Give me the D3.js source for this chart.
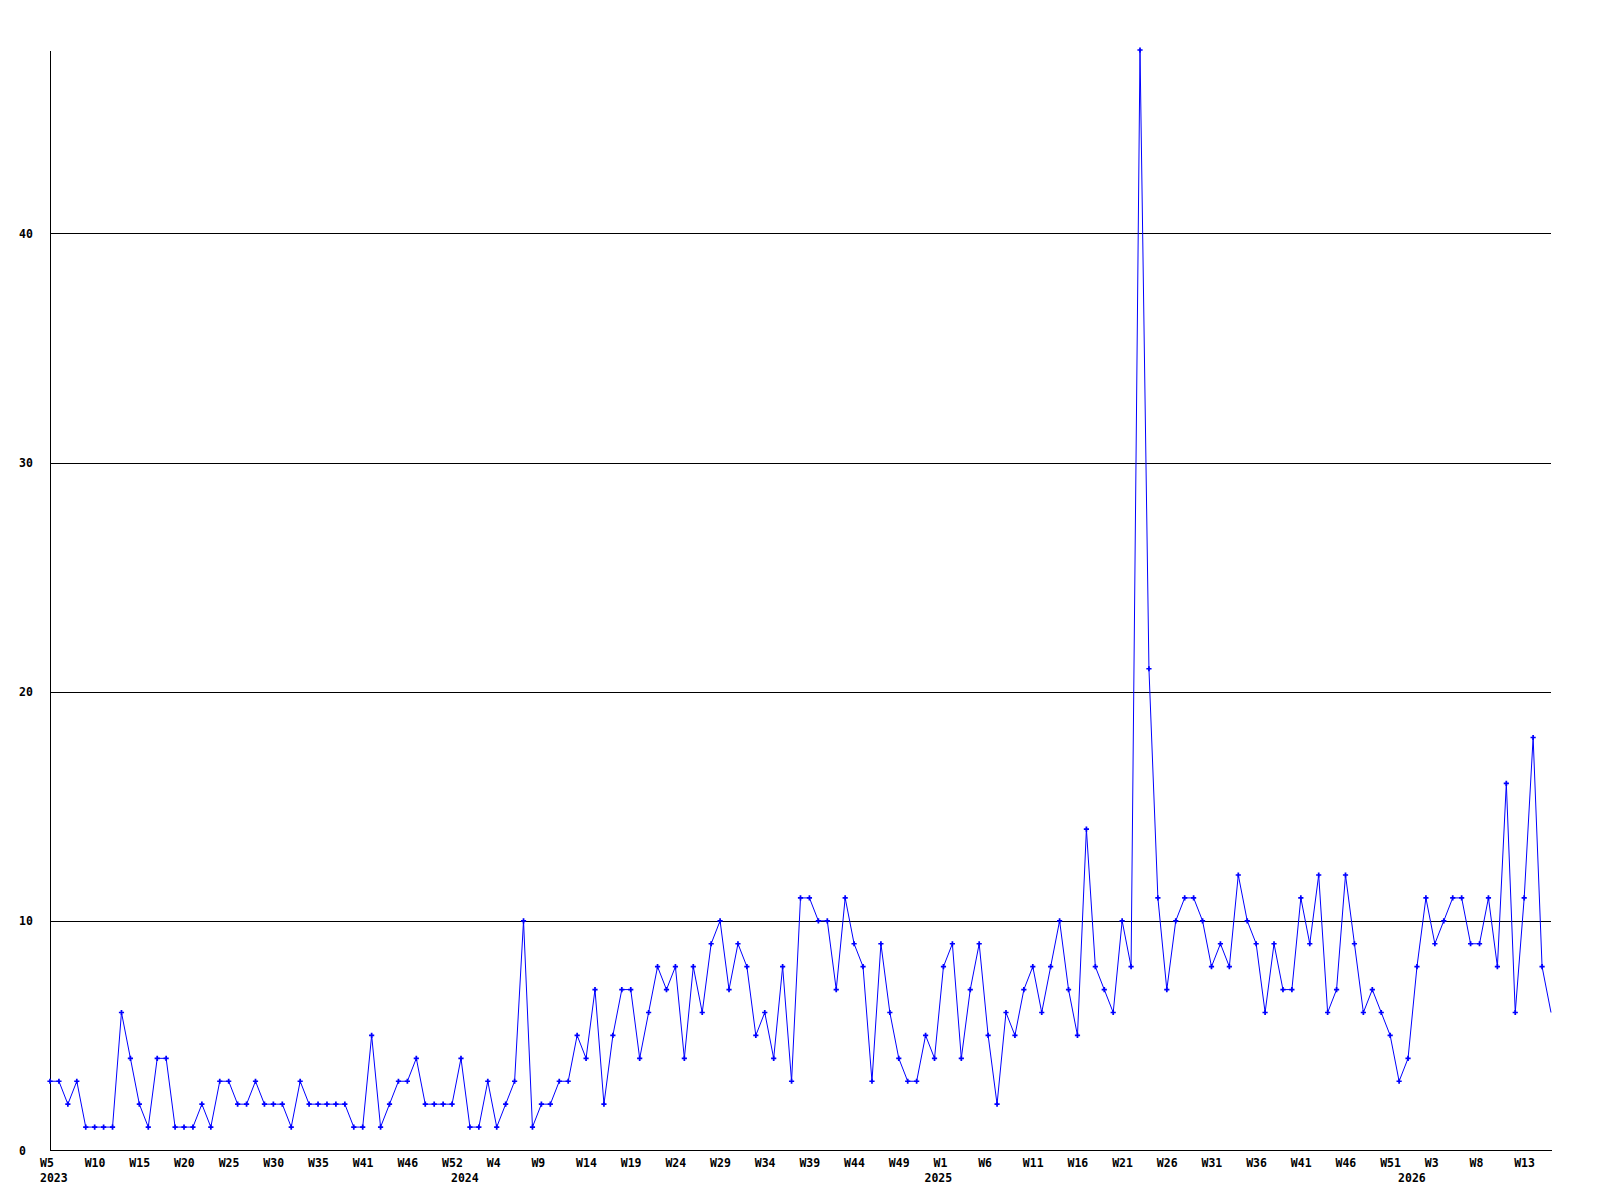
<!DOCTYPE html>
<html lang="en">
<head>
  <meta charset="UTF-8">
  <title>Weekly counts</title>
  <style>
    body { margin: 0; background: #fff; }
    .chart text {
      font-family: "DejaVu Sans Mono", monospace;
      font-weight: bold;
      font-size: 11.5px;
      fill: #000;
    }
    .axis path,
    .axis line {
      fill: none;
      stroke: #000;
      shape-rendering: crispEdges;
    }
    .series {
      fill: none;
      stroke: #0000ff;
      stroke-width: 1;
    }
    .marker { fill: #0000ff; }
  </style>
</head>
<body>
  <svg class="chart"></svg>
  <script src="https://cdn.jsdelivr.net/npm/d3@7"></script>
  <script>
    // one value per week, 2023 W5 onwards
    var counts2023 = [3,3,2,3,1,1,1,1,6,4,2,1,4,4,1,1,1,2,1,3,3,2,2,3,2,2,
                      2,1,3,2,2,2,2,2,1,1,5,1,2,3,3,4,2,2,2,2];
    var counts2024 = [4,1,1,3,1,2,3,10,1,2,
                      2,3,3,5,4,7,2,5,7,7,4,6,8,7,8,4,8,6,9,10,7,9,8,5,6,4,8,3,11,
                      11,10,10,7,11,9,8,3,9,6,4,3,3,5];
    var counts2025 = [4,8,9,4,7,9,5,2,6,5,7,8,6,8,10,
                      7,5,14,8,7,6,10,8,48,21,11,7,10,11,11,10,8,9,8,12,10,9,6,9,7,7,11,9,12,
                      6,7,12,9,6,7,6,5,3];
    var counts2026 = [4,8,11,9,10,11,11,9,9,11,8,16,6,11,18,8,6];
    var values = counts2023.concat(counts2024, counts2025, counts2026);

    // x labels, one every 5 weeks
    var weekLabels = ["W5","W10","W15","W20","W25","W30","W35","W41","W46","W52",
                      "W4","W9","W14","W19","W24","W29","W34","W39","W44","W49",
                      "W1","W6","W11","W16","W21","W26","W31","W36","W41","W46","W51",
                      "W3","W8","W13"];
    var years = ["2023","2024","2025","2026"];
    var yearStart = [0, counts2023.length, counts2023.length + counts2024.length,
                     counts2023.length + counts2024.length + counts2025.length];
    var yTicks = [0, 10, 20, 30, 40];

    var svgW = 1600, svgH = 1200;
    var margin = {top: 50, left: 50, right: 49, bottom: 50};
    var plotW = svgW - margin.left - margin.right;

    var svg = d3.select(".chart")
      .attr("width", svgW)
      .attr("height", svgH);

    var x = d3.scaleLinear()
      .domain([0, values.length - 1])
      .range([margin.left, margin.left + plotW]);

    var y = d3.scaleLinear()
      .domain([0, 48])
      .range([svgH - margin.bottom, margin.top]);

    // y axis + grid lines
    var yAxis = svg.append("g")
      .attr("class", "axis")
      .attr("transform", "translate(" + margin.left + ",0)")
      .call(d3.axisLeft(y).tickValues(yTicks).tickSize(-plotW).tickSizeOuter(0).tickFormat(d3.format("d")));
    yAxis.attr("font-family", null).attr("font-size", null);
    yAxis.selectAll("text")
      .attr("x", -31)
      .attr("dy", "0.35em")
      .attr("text-anchor", "start");

    // x axis, week labels
    var xAxis = svg.append("g")
      .attr("class", "axis")
      .attr("transform", "translate(0," + y(0) + ")")
      .call(d3.axisBottom(x)
        .tickValues(weekLabels.map(function(d, i) { return i * 5; }))
        .tickFormat(function(d, i) { return weekLabels[i]; })
        .tickSize(0)
        .tickSizeOuter(0));
    xAxis.attr("font-family", null).attr("font-size", null);
    xAxis.selectAll("text")
      .attr("x", -10.5)
      .attr("y", 17)
      .attr("dy", null)
      .attr("text-anchor", "start");

    // year labels
    var yearAxis = svg.append("g")
      .attr("transform", "translate(0," + y(0) + ")")
      .call(d3.axisBottom(x)
        .tickValues(yearStart)
        .tickFormat(function(d, i) { return years[i]; })
        .tickSize(0));
    yearAxis.attr("font-family", null).attr("font-size", null);
    yearAxis.select(".domain").remove();
    yearAxis.selectAll("text")
      .attr("x", -10.5)
      .attr("y", 32)
      .attr("dy", null)
      .attr("text-anchor", "start");

    var line = d3.line()
      .x(function(d, i) { return x(i); })
      .y(function(d) { return y(d); });

    svg.append("path")
      .datum(values)
      .attr("class", "series")
      .attr("d", line);

    var cross = d3.symbol().type(d3.symbolCross).size(15);
    svg.selectAll(".marker")
      .data(values.slice(0, values.length - 1))
      .enter().append("path")
      .attr("class", "marker")
      .attr("transform", function(d, i) {
        return "translate(" + x(i) + "," + y(d) + ")";
      })
      .attr("d", cross);
  </script>
</body>
</html>
